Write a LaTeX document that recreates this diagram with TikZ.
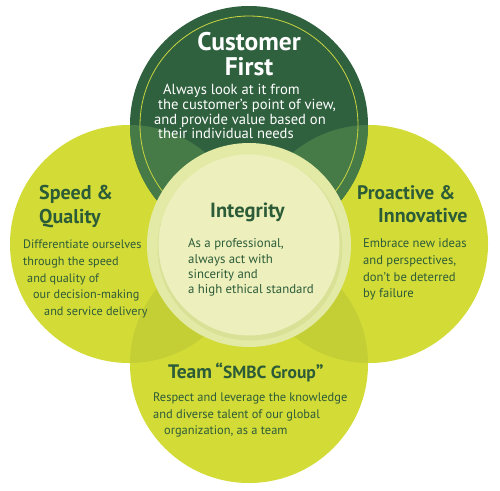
\documentclass[tikz,border=0pt]{standalone}
\usepackage{fontspec}
\setmainfont{PT Sans}
\definecolor{dkg}{HTML}{30613F}
\definecolor{mdg}{HTML}{467B48}
\definecolor{yel}{HTML}{D3DB37}
\definecolor{yel2}{HTML}{C4CF35}
\definecolor{ringc}{HTML}{C9D540}
\definecolor{ctrout}{HTML}{E3EAA6}
\definecolor{ctrin}{HTML}{EDF0BD}
\definecolor{shad}{HTML}{D2DB8C}
\definecolor{txt}{HTML}{2C5B38}
\tikzset{
  title/.style={anchor=base west, inner sep=0pt, font=\bfseries\fontsize{20}{20}\selectfont, text=txt},
  body/.style={anchor=base west, inner sep=0pt, font=\fontsize{12.2}{12}\selectfont, text=txt},
  wtitle/.style={anchor=base, inner sep=0pt, font=\bfseries\fontsize{25.5}{24}\selectfont, text=white},
  wbody/.style={anchor=base west, inner sep=0pt, font=\fontsize{14.6}{14}\selectfont, text=white},
}
\begin{document}
\begin{tikzpicture}[x=1pt,y=-1pt]
\useasboundingbox (0,0) rectangle (500,490);
\fill[white] (0,0) rectangle (500,490);
\coordinate (T) at (249,125);
\coordinate (L) at (129,244);
\coordinate (R) at (369,244);
\coordinate (B) at (249,364);
\coordinate (C) at (249,245);
% yellow circles
\fill[yel] (L) circle (119pt);
\fill[yel] (R) circle (119pt);
\fill[yel] (B) circle (119pt);
\begin{scope}\clip (L) circle (119pt); \fill[yel2] (B) circle (119pt);\end{scope}
\begin{scope}\clip (R) circle (119pt); \fill[yel2] (B) circle (119pt);\end{scope}
% top circle
\fill[dkg] (T) circle (119pt);
\begin{scope}\clip (L) circle (119pt); \fill[mdg] (T) circle (119pt);\end{scope}
\begin{scope}\clip (R) circle (119pt); \fill[mdg] (T) circle (119pt);\end{scope}
\draw[ringc, line width=0.8pt] (T) circle (109pt);
% center
\fill[ctrout] (C) circle (102pt);
\fill[shad, opacity=0.6] (250,248) circle (92.5pt);
\fill[ctrin] (C) circle (90.5pt);
% Customer First
\node[wtitle] (cf1) at (249,50) {Customer};
\node[wtitle] (cf2) at (249,75) {First};
\node[wbody] (cb1) at (163,94) {Always look at it from};
\node[wbody] (cb2) at (158,109) {the customer’s point of view,};
\node[wbody] (cb3) at (154,124) {and provide value based on};
\node[wbody] (cb4) at (158,138) {their individual needs};
% Speed & Quality
\node[title] (sq1) at (39,199) {Speed \&};
\node[title] (sq2) at (39,223) {Quality};
\node[body] (sb1) at (23,248) {Differentiate ourselves};
\node[body] (sb2) at (23,265) {through the speed};
\node[body] (sb3) at (27,282) {and quality of};
\node[body] (sb4) at (33,298) {our decision-making};
\node[body] (sb5) at (44,315) {and service delivery};
% Integrity
\node[title, font=\bfseries\fontsize{20.5}{20}\selectfont] (ig1) at (210,217) {Integrity};
\node[body, font=\fontsize{12.8}{12}\selectfont] (ib1) at (188,247) {As a professional,};
\node[body, font=\fontsize{12.8}{12}\selectfont] (ib2) at (188,263) {always act with};
\node[body, font=\fontsize{12.8}{12}\selectfont] (ib3) at (188,278) {sincerity and};
\node[body, font=\fontsize{12.8}{12}\selectfont] (ib4) at (188,293) {a high ethical standard};
% Proactive & Innovative
\node[title, font=\bfseries\fontsize{19.5}{20}\selectfont] (pi1) at (357,199) {Proactive \&};
\node[title] (pi2) at (378,222) {Innovative};
\node[body, font=\fontsize{12.6}{12}\selectfont] (pb1) at (363,247) {Embrace new ideas};
\node[body, font=\fontsize{12.6}{12}\selectfont] (pb2) at (363,264) {and perspectives,};
\node[body, font=\fontsize{12.6}{12}\selectfont] (pb3) at (363,281) {don’t be deterred};
\node[body, font=\fontsize{12.6}{12}\selectfont] (pb4) at (363,297) {by failure};
% Team
\node[title, font=\bfseries\fontsize{19.5}{19}\selectfont] (tm1) at (168,378)
  {Team\,“{\fontsize{17.5}{17}\selectfont SMBC Group}”};
\node[body, font=\fontsize{12.4}{12}\selectfont] (tb1) at (153,401) {Respect and leverage the knowledge};
\node[body, font=\fontsize{12.4}{12}\selectfont] (tb2) at (153,418) {and diverse talent of our global};
\node[body, font=\fontsize{12.4}{12}\selectfont] (tb3) at (164,434) {organization, as a team};
\end{tikzpicture}
\end{document}
